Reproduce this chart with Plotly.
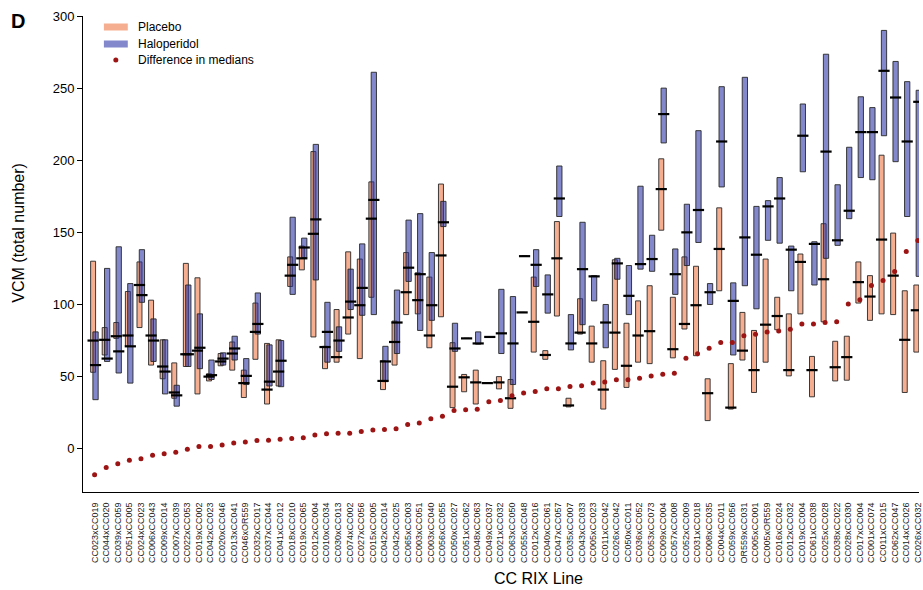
import plotly.graph_objects as go

# CC RIX lines, ordered by the difference in medians
lines = [
    "CC023xCC019", "CC044xCC020", "CC039xCC059", "CC051xCC005", "CC024xCC023",
    "CC006xCC043", "CC009xCC014", "CC007xCC039", "CC022xCC053", "CC019xCC002",
    "CC042xCC023", "CC020xCC046", "CC013xCC041", "CC046xOR559", "CC032xCC017",
    "CC037xCC044", "CC041xCC012", "CC018xCC010", "CC019xCC065", "CC012xCC004",
    "CC010xCC034", "CC030xCC013", "CC074xCC002", "CC027xCC056", "CC015xCC005",
    "CC042xCC014", "CC042xCC025", "CC065xCC003", "CC003xCC051", "CC003xCC040",
    "CC056xCC055", "CC050xCC027", "CC051xCC062", "CC048xCC063", "CC049xCC037",
    "CC021xCC032", "CC063xCC050", "CC055xCC048", "CC012xCC016", "CC040xCC061",
    "CC047xCC057", "CC035xCC007", "CC043xCC033", "CC005xCC023", "CC011xCC042",
    "CC026xCC042", "CC050xCC011", "CC036xCC052", "CC053xCC073", "CC009xCC004",
    "CC057xCC008", "CC052xCC009", "CC031xCC018", "CC008xCC035", "CC004xCC011",
    "CC059xCC056", "OR559xCC031", "CC005xCC001", "CC005xOR559", "CC016xCC024",
    "CC012xCC032", "CC019xCC004", "CC061xCC038", "CC025xCC028", "CC038xCC022",
    "CC028xCC030", "CC017xCC004", "CC001xCC074", "CC011xCC015", "CC062xCC047",
    "CC014xCC026", "CC026xCC032",
]

# Placebo: range (low/high) and median VCM
placebo_lo = [53, 65, 76.5, 71, 84, 58, 48.5, 35, 57, 38,
              47, 57.5, 54.5, 35.5, 62, 31, 43.5, 112.5, 124, 77.5,
              55.5, 60, 79.5, 62.5, 105, 41, 58, 93, 93.5, 70,
              91.5, 28.5, 39.5, 31, 45.5, 41.5, 28, 94.5, 67, 62,
              92, 29, 79.5, 60, 27.5, 55, 42.5, 60, 59, 151.5,
              63, 83, 64.5, 19.5, 109.5, 27.5, 61.5, 39, 60, 82.5,
              50.5, 93.5, 36, 88, 47, 47.5, 101, 89, 93.5, 93,
              39, 67]
placebo_hi = [130, 84, 87.5, 109, 129.5, 103, 75.5, 59.5, 128.5, 118.5,
              52, 66, 74, 54.5, 101, 73, 75.5, 133, 140.5, 206,
              71, 96.5, 136.5, 131.5, 185, 61, 88.5, 136, 122, 119,
              183.5, 73.5, 51.5, 54.5, 45.5, 50, 48, 94.5, 119, 68,
              157.5, 35, 104, 85, 61, 131, 87, 102.5, 113, 201,
              105, 133, 126.5, 48.5, 167, 59, 94.5, 82, 131.5, 105,
              93.5, 135, 64, 156, 74.5, 78, 129.5, 120, 203.5, 149.5,
              109.5, 113.5]
placebo_med = [75, 75.5, 78, 78.5, 113.5, 78.5, 57, 39, 65.5, 68,
               50, 60.5, 66, 45.5, 81, 41, 53.5, 120, 132, 149,
               70.5, 63.5, 91, 99.5, 159.5, 47, 74, 108.5, 103, 78.5,
               134, 43, 49.5, 46, 45.5, 46, 35, 94.5, 88, 65,
               132, 30, 80.5, 73, 41, 80.5, 57.5, 78.5, 81.5, 180,
               69, 86.5, 99.5, 38.5, 138.5, 28.5, 68, 54.5, 86, 92,
               54.5, 129.5, 54.5, 117.5, 56.5, 63.5, 115.5, 105.5, 145, 120,
               75.5, 96]

# Haloperidol: range (low/high) and median VCM
halo_lo = [34, 60.5, 52.5, 45.5, 101.5, 60.5, 38, 29.5, 57, 55.5,
           48, 58, 61.5, 44.5, 79.5, 43.5, 43, 107, 132.5, 117,
           60, 67.5, 96.5, 92.5, 93, 46.5, 66, 116, 82, 89,
           154, 67.5, 76.5, 72.5, 77.5, 66, 44.5, 133.5, 112.5, 94,
           161, 68.5, 86, 102.5, 70, 117.5, 93, 124.5, 123, 212,
           107, 127, 143, 100, 181.5, 65, 113, 97, 144.5, 142.5,
           109.5, 192, 113.5, 132, 141, 159.5, 188, 186.5, 217, 199,
           161, 119.5]
halo_hi = [81, 125, 140, 114.5, 138, 90, 75.5, 44, 113.5, 93.5,
           61.5, 66.5, 78, 62.5, 108, 72, 75, 160.5, 146, 211,
           101.5, 84.5, 124.5, 142, 261, 71, 110, 158.5, 163, 136,
           171.5, 87, 76.5, 81, 77.5, 110.5, 105.5, 133.5, 138, 120.5,
           196, 93, 157, 120, 100, 132, 127, 182, 148, 250,
           138.5, 169.5, 220.5, 114.5, 251, 115, 257.5, 168, 172, 188,
           140.5, 239, 143.5, 273.5, 183, 209, 244, 236.5, 290, 268.5,
           254.5, 248.5]
halo_med = [58, 62.5, 67.5, 71, 106.5, 75, 53.5, 37, 65.5, 70,
            51, 62.5, 69.5, 50.5, 86.5, 46.5, 61, 127.5, 139.5, 159,
            81, 75, 102, 111.5, 172.5, 60.5, 87.5, 125.5, 121, 99.5,
            157, 69.5, 76.5, 73, 77.5, 80, 73, 133.5, 127.5, 107,
            173.5, 73, 124.5, 119.5, 87.5, 128.5, 106, 128, 131.5, 232,
            121, 150, 165.5, 108.5, 213, 102.5, 146.5, 134.5, 168, 173.5,
            138, 217, 142, 206, 144.5, 165, 219.5, 219.5, 262, 243.5,
            213, 240.5]

# Difference in medians (haloperidol - placebo)
diff_median = [-18, -13, -10.5, -8, -7, -4.5, -3.5, -2.5, -0.3, 1.5,
               1.6, 2.5, 3.9, 4.6, 5.7, 5.8, 6.6, 7.1, 7.6, 9.6,
               10.3, 10.8, 10.8, 11.9, 13, 13.4, 13.9, 16.8, 17.8, 20.7,
               22.5, 26.5, 27, 27.4, 32.5, 33.5, 36.7, 38.6, 39.7, 41.6,
               41.6, 43.2, 43.7, 45.5, 46.2, 47.8, 47.8, 48.9, 50.5, 51.7,
               52.4, 62.8, 65.8, 69.7, 73.6, 73.6, 78.3, 79.4, 81, 81.7,
               82.8, 86.5, 86.5, 87.5, 88.1, 100.4, 103.2, 113.1, 116.6, 122.8,
               136.7, 144.3]

y_ticks = [0, 50, 100, 150, 200, 250, 300]

FONT = "Liberation Sans, Arial, sans-serif"
PLACEBO_FILL = "rgba(240,120,70,0.6)"
HALO_FILL = "rgba(40,50,165,0.58)"
EDGE = "rgba(40,40,40,0.9)"
DOT = "#9c1414"

W, H = 923, 590
ML, MR, MT, MB = 83, 0, 16, 98
PW, PH = W - ML - MR, H - MT - MB


def px(xp):
    """pixel column -> paper x"""
    return (xp - ML) / PW


def py(yp):
    """pixel row -> paper y"""
    return 1 - (yp - MT) / PH


xs = list(range(len(lines)))
step_px = 11.65  # width of one category slot in pixels
p_off, p_w = -4.0 / step_px, 5.0 / step_px
h_off, h_w = -1.7 / step_px, 5.3 / step_px

fig = go.Figure()

fig.add_trace(go.Bar(
    x=xs, base=placebo_lo,
    y=[h - l for h, l in zip(placebo_hi, placebo_lo)],
    offset=p_off, width=p_w,
    marker=dict(color=PLACEBO_FILL, line=dict(color=EDGE, width=1)),
    name="Placebo", showlegend=False,
))
fig.add_trace(go.Bar(
    x=xs, base=halo_lo,
    y=[h - l for h, l in zip(halo_hi, halo_lo)],
    offset=h_off, width=h_w,
    marker=dict(color=HALO_FILL, line=dict(color=EDGE, width=1)),
    name="Haloperidol", showlegend=False,
))

# median ticks
for offs, w, med in ((p_off, p_w, placebo_med), (h_off, h_w, halo_med)):
    fig.add_trace(go.Scatter(
        x=[x + offs + w / 2 for x in xs], y=med, mode="markers",
        marker=dict(symbol="line-ew", size=8, line=dict(color="black", width=2.2)),
        showlegend=False, hoverinfo="skip",
    ))

# difference in medians
fig.add_trace(go.Scatter(
    x=xs, y=diff_median, mode="markers",
    marker=dict(color=DOT, size=5),
    name="Difference in medians", showlegend=False,
))

fig.update_layout(
    width=W, height=H,
    margin=dict(l=ML, r=MR, t=MT, b=MB),
    paper_bgcolor="white", plot_bgcolor="white",
    barmode="overlay",
    font=dict(family=FONT, color="black"),
    xaxis=dict(
        range=[-1.0, 71.1],
        tickmode="array", tickvals=xs, ticktext=lines,
        tickangle=-90, tickfont=dict(size=9, family=FONT, color="#222"),
        ticklabelstandoff=6, ticklabeloverflow="allow",
        showgrid=False, zeroline=False,
        showline=True, linecolor="black", linewidth=1,
        ticks="",
    ),
    yaxis=dict(
        range=[-30, 300],
        tickmode="array", tickvals=y_ticks,
        tickfont=dict(size=13, family=FONT),
        showgrid=False, zeroline=False,
        showline=True, linecolor="black", linewidth=1,
        ticks="outside", ticklen=5, tickcolor="black",
    ),
    xaxis2=dict(domain=[0, 1], range=[0, 1], visible=False, overlaying="x"),
    yaxis2=dict(domain=[0, 1], range=[0, 1], visible=False, overlaying="y"),
)

# axis titles and panel letter
fig.add_annotation(text="VCM (total number)", xref="paper", yref="y",
                   x=px(18), y=150, textangle=-90, showarrow=False,
                   xanchor="center", yanchor="middle",
                   font=dict(size=16, family=FONT))
fig.add_annotation(text="CC RIX Line", xref="paper", yref="paper",
                   x=px(541), y=py(578), showarrow=False,
                   xanchor="center", yanchor="middle",
                   font=dict(size=16, family=FONT))
fig.add_annotation(text="<b>D</b>", xref="paper", yref="paper",
                   x=px(18), y=py(21), showarrow=False,
                   xanchor="center", yanchor="middle",
                   font=dict(size=20, family=FONT))

# legend
for label, col, yp in (("Placebo", PLACEBO_FILL, 27), ("Haloperidol", HALO_FILL, 44)):
    fig.add_shape(type="rect", xref="paper", yref="paper",
                  x0=px(104), x1=px(128), y0=py(yp + 3.5), y1=py(yp - 3.5),
                  fillcolor=col, line=dict(width=0))
    fig.add_annotation(text=label, xref="paper", yref="paper", x=px(136), y=py(yp),
                       xanchor="left", yanchor="middle", showarrow=False,
                       font=dict(size=12, family=FONT))
fig.add_trace(go.Scatter(x=[px(116)], y=[py(60)], xaxis="x2", yaxis="y2",
                         mode="markers", marker=dict(color=DOT, size=5),
                         showlegend=False, hoverinfo="skip"))
fig.add_annotation(text="Difference in medians", xref="paper", yref="paper",
                   x=px(136), y=py(60), xanchor="left", yanchor="middle",
                   showarrow=False, font=dict(size=12, family=FONT))

fig.write_html("out.html")
